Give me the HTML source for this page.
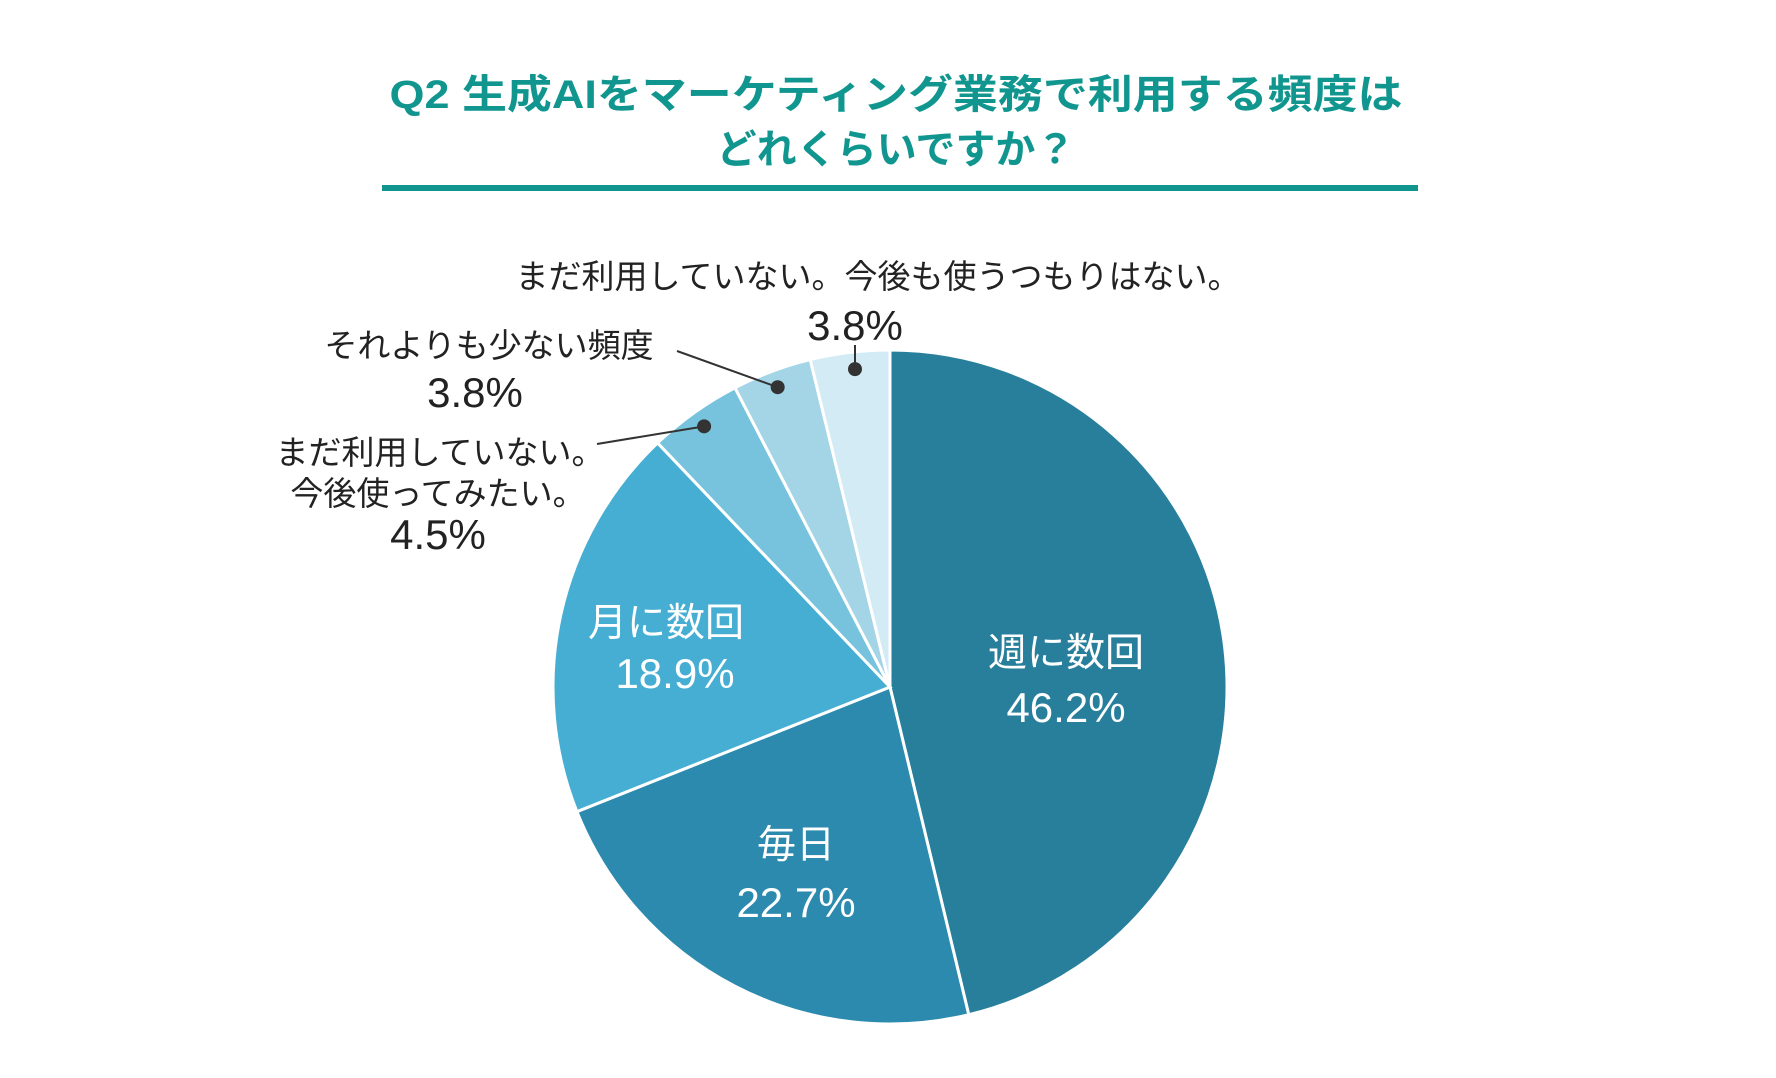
<!DOCTYPE html>
<html><head><meta charset="utf-8"><style>
html,body{margin:0;padding:0;background:#fff;}
svg{display:block;font-family:"Liberation Sans","Noto Sans CJK JP",sans-serif;}
</style></head><body>
<svg id="chart" width="1776" height="1078" viewBox="0 0 1776 1078" xmlns="http://www.w3.org/2000/svg">
<rect width="1776" height="1078" fill="#fff"/>
<g fill="#10968f" font-weight="bold" font-size="40" text-anchor="middle">
<text x="896" y="108" textLength="1013" lengthAdjust="spacingAndGlyphs">Q2 生成AIをマーケティング業務で利用する頻度は</text>
<text x="896" y="163">どれくらいですか？</text>
</g>
<rect x="382" y="185" width="1036" height="6" fill="#10968f"/>
<g id="slices"></g>
<g id="labels"></g>
</svg>
<script>
const categories = ["週に数回","毎日","月に数回","まだ利用していない。今後使ってみたい。","それよりも少ない頻度","まだ利用していない。今後も使うつもりはない。"];
const values = [46.2,22.7,18.9,4.5,3.8,3.8];
const valueLabels = ["46.2%","22.7%","18.9%","4.5%","3.8%","3.8%"];
const colors = ["#277f9c","#2b8aad","#45aed2","#77c3dd","#a3d5e7","#d3ebf4"];
const NS="http://www.w3.org/2000/svg";
const cx=890, cy=687, r=337;
const total=values.reduce((a,b)=>a+b,0);
function pt(frac,rad){const a=frac*2*Math.PI;return [cx+rad*Math.sin(a),cy-rad*Math.cos(a)];}
const g=document.getElementById('slices');
const lg=document.getElementById('labels');
let acc=0; const mids=[];
values.forEach((v,i)=>{
  const s=acc/total, e=(acc+v)/total; acc+=v;
  mids.push((s+e)/2);
  const p0=pt(s,r), p1=pt(e,r);
  const large=(e-s)>0.5?1:0;
  const p=document.createElementNS(NS,'path');
  p.setAttribute('d',`M${cx},${cy} L${p0[0]},${p0[1]} A${r},${r} 0 ${large} 1 ${p1[0]},${p1[1]} Z`);
  p.setAttribute('fill',colors[i]);p.setAttribute('stroke','#fff');p.setAttribute('stroke-width','3');
  
  
  g.appendChild(p);
});
function txt(x,y,s,size,fill,name){
  const t=document.createElementNS(NS,'text');
  t.setAttribute('x',x);t.setAttribute('y',y);t.setAttribute('font-size',size);
  t.setAttribute('fill',fill);t.setAttribute('text-anchor','middle');t.textContent=s;
  
  
  lg.appendChild(t);
}
// inside labels
const inside=[[1066,666,1066,722],[796,858,796,917],[666,636,675,688]];
for(let i=0;i<3;i++){
  txt(inside[i][0],inside[i][1],categories[i],39,'#fff','slice-label-'+(i+1));
  txt(inside[i][2],inside[i][3],valueLabels[i],42,'#fff','slice-value-'+(i+1));
}
// outside labels
txt(440,464,"まだ利用していない。",33,'#222','slice-label-4a');
txt(438,505,"今後使ってみたい。",33,'#222','slice-label-4b');
txt(438,549,valueLabels[3],42,'#222','slice-value-4');
txt(489,357,categories[4],33,'#222','slice-label-5');
txt(475,407,valueLabels[4],42,'#222','slice-value-5');
txt(878,288,categories[5],33,'#222','slice-label-6');
txt(855,340,valueLabels[5],42,'#222','slice-value-6');
// leader lines
const leaders=[[3,597,444],[4,677,351],[5,855,345]];
leaders.forEach(([i,x0,y0])=>{
  const d=pt(mids[i],r*0.95);
  if(i===5)d[0]=x0;
  const l=document.createElementNS(NS,'line');
  l.setAttribute('x1',x0);l.setAttribute('y1',y0);l.setAttribute('x2',d[0]);l.setAttribute('y2',d[1]);
  l.setAttribute('stroke','#333');l.setAttribute('stroke-width','2');
  
  
  lg.appendChild(l);
  const c=document.createElementNS(NS,'circle');
  c.setAttribute('cx',d[0]);c.setAttribute('cy',d[1]);c.setAttribute('r',7);c.setAttribute('fill','#333');
  
  
  lg.appendChild(c);
});
</script>
</body></html>
